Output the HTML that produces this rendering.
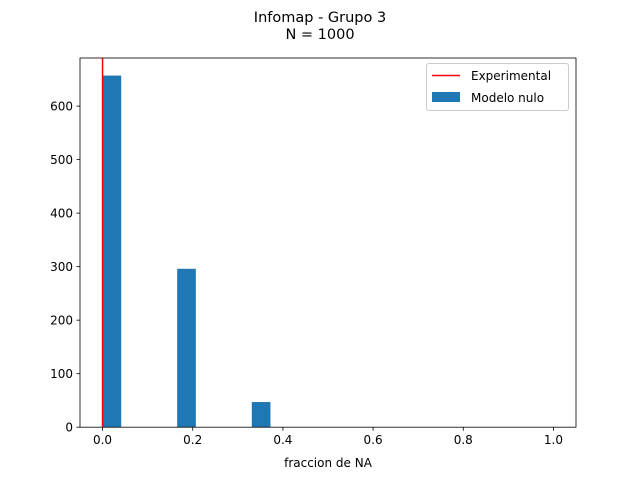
<!DOCTYPE html>
<html><head><meta charset="utf-8"><style>
body{margin:0;background:#fff;}
svg text{font-family:"DejaVu Sans","Liberation Sans",sans-serif;}
</style></head><body>
<svg id="chart" width="640" height="480" xmlns="http://www.w3.org/2000/svg">
<rect width="640" height="480" fill="#fff"/>
<text x="320" y="22" text-anchor="middle" font-size="14.5">Infomap - Grupo 3</text>
<text x="320" y="39" text-anchor="middle" font-size="14.5">N = 1000</text>
<g id="plot"></g>
<text x="328" y="467" text-anchor="middle" font-size="12">fraccion de NA</text>
</svg>
<script>
const binLefts=[0,0.1655,0.331];
const binWidth=0.0414;
const counts=[657,296,47];
const experimental=[0];
const xTicks=[0,0.2,0.4,0.6,0.8,1.0];
const xTickLabels=["0.0","0.2","0.4","0.6","0.8","1.0"];
const yTicks=[0,100,200,300,400,500,600];
const L=80,R=576,T=58,B=427.2;
const xMin=-0.05,xMax=1.05,yMin=0,yMax=689.85;
const X=v=>L+(v-xMin)/(xMax-xMin)*(R-L);
const Y=v=>B-(v-yMin)/(yMax-yMin)*(B-T);
const NS="http://www.w3.org/2000/svg";
const g=document.getElementById('plot');
function mk(t,a){const e=document.createElementNS(NS,t);for(const k in a)e.setAttribute(k,a[k]);g.appendChild(e);return e;}
counts.forEach((c,i)=>{
 const r=mk('rect',{x:X(binLefts[i]),y:Y(c),width:X(binLefts[i]+binWidth)-X(binLefts[i]),height:Y(0)-Y(c),fill:'#1f77b4'});
 
 
});
experimental.forEach(v=>{
 const l=mk('line',{x1:X(v),x2:X(v),y1:T,y2:B,stroke:'#ff0000','stroke-width':1.5});
 
 
});
const f=mk('rect',{x:L,y:T,width:R-L,height:B-T,fill:'none',stroke:'#000','stroke-width':0.8});


xTicks.forEach((v,i)=>{
 mk('line',{x1:X(v),x2:X(v),y1:B,y2:B+3.5,stroke:'#000','stroke-width':0.8});
 const t=mk('text',{x:X(v),y:B+17,'text-anchor':'middle','font-size':12});
 t.textContent=xTickLabels[i];
 
 
});
yTicks.forEach(v=>{
 mk('line',{x1:L-3.5,x2:L,y1:Y(v),y2:Y(v),stroke:'#000','stroke-width':0.8});
 const t=mk('text',{x:L-7,y:Y(v)+4.5,'text-anchor':'end','font-size':12});
 t.textContent=v;
 
 
});
const lg=mk('rect',{x:426.5,y:63.5,width:142,height:47,rx:2.5,fill:'#fff','fill-opacity':0.8,stroke:'#ccc','stroke-width':1});


mk('line',{x1:432,x2:460,y1:75.5,y2:75.5,stroke:'#ff0000','stroke-width':1.5});
const t1=mk('text',{x:471,y:80,'font-size':12});t1.textContent='Experimental';


mk('rect',{x:432,y:92,width:28,height:10,fill:'#1f77b4'});
const t2=mk('text',{x:471,y:102,'font-size':12});t2.textContent='Modelo nulo';


</script>
</body></html>
